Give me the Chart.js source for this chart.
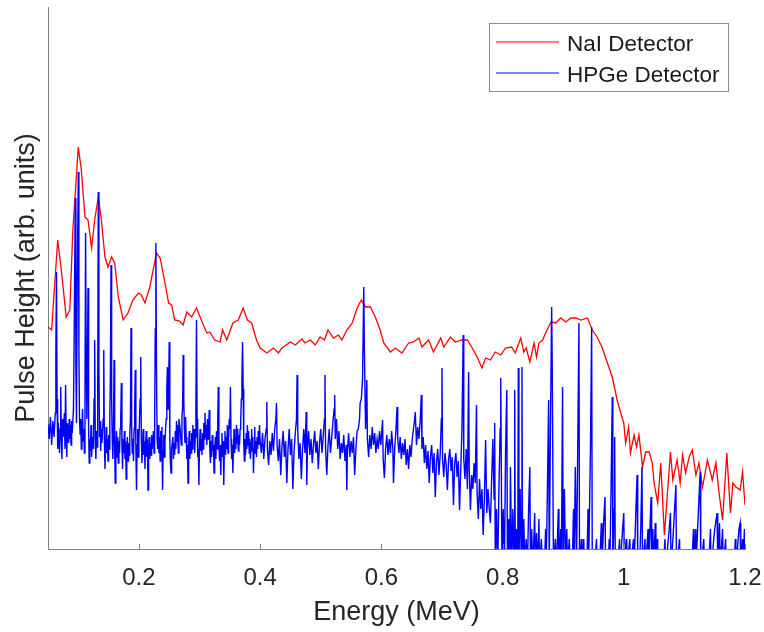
<!DOCTYPE html>
<html>
<head>
<meta charset="utf-8">
<title>Pulse height spectra</title>
<script src="https://cdn.jsdelivr.net/npm/chart.js@4.4.1/dist/chart.umd.min.js"></script>
<style>
  html, body { margin: 0; padding: 0; background: #fff; }
  #spectrumChart { display: block; }
</style>
</head>
<body>
<canvas id="spectrumChart" width="764" height="632"></canvas>
<script>
// ---------- Spectrum data (energy in MeV, height in arb. units) ----------
const energyTicks = [0.2, 0.4, 0.6, 0.8, 1.0, 1.2];

const naiEnergy = [
  0.050, 0.056, 0.066, 0.072, 0.080, 0.086, 0.091, 0.100, 0.105, 0.111,
  0.116, 0.122, 0.127, 0.133, 0.138, 0.144, 0.149, 0.155, 0.160, 0.166,
  0.174, 0.182, 0.190, 0.199, 0.204, 0.210, 0.218, 0.229, 0.235, 0.243,
  0.249, 0.254, 0.259, 0.267, 0.273, 0.279, 0.287, 0.295, 0.303, 0.312,
  0.317, 0.325, 0.334, 0.338, 0.345, 0.355, 0.364, 0.372, 0.379, 0.386,
  0.394, 0.400, 0.411, 0.422, 0.430, 0.436, 0.450, 0.458, 0.469, 0.474,
  0.483, 0.491, 0.499, 0.506, 0.512, 0.521, 0.529, 0.535, 0.543, 0.552,
  0.560, 0.567, 0.574, 0.582, 0.590, 0.598, 0.604, 0.615, 0.623, 0.634,
  0.645, 0.653, 0.662, 0.667, 0.678, 0.686, 0.698, 0.703, 0.714, 0.722,
  0.733, 0.742, 0.750, 0.758, 0.766, 0.772, 0.780, 0.788, 0.797, 0.805,
  0.815, 0.821, 0.830, 0.835, 0.839, 0.845, 0.852, 0.856, 0.860, 0.866,
  0.871, 0.880, 0.888, 0.896, 0.904, 0.913, 0.921, 0.929, 0.940, 0.948,
  0.956, 0.964, 0.973, 0.981, 0.989, 0.995, 1.000, 1.003, 1.008, 1.011,
  1.017, 1.021, 1.025, 1.031, 1.036, 1.042, 1.047, 1.050, 1.056, 1.061,
  1.067, 1.077, 1.081, 1.088, 1.093, 1.097, 1.102, 1.108, 1.113, 1.119,
  1.124, 1.130, 1.138, 1.146, 1.152, 1.157, 1.163, 1.170, 1.176, 1.180,
  1.185, 1.192, 1.196, 1.200
];
const naiHeight = [
  222, 219, 309, 279, 232, 239, 319, 402, 379, 332,
  329, 301, 329, 352, 329, 292, 282, 292, 286, 252,
  229, 236, 249, 256, 254, 246, 262, 296, 291, 266,
  246, 244, 229, 228, 224, 237, 232, 241, 229, 216,
  217, 209, 207, 219, 209, 226, 229, 241, 229, 226,
  209, 201, 196, 201, 196, 201, 207, 204, 210, 206,
  209, 204, 212, 209, 219, 211, 214, 209, 219, 226,
  241, 249, 242, 242, 232, 219, 206, 197, 201, 196,
  206, 207, 211, 202, 209, 197, 211, 202, 212, 207,
  209, 209, 201, 192, 181, 191, 189, 197, 194, 201,
  202, 196, 211, 197, 201, 187, 206, 192, 206, 209,
  216, 227, 226, 231, 227, 231, 231, 229, 231, 219,
  212, 202, 186, 172, 149, 136, 126, 106, 122, 96,
  114, 102, 114, 82, 97, 97, 86, 66, 46, 86,
  14, 97, 69, 89, 66, 94, 76, 92, 99, 74,
  86, 62, 89, 69, 86, 57, 29, 96, 36, 66,
  62, 59, 77, 44
];

const hpgeEnergy = [
  0.050, 0.052, 0.054, 0.056, 0.058, 0.060, 0.062, 0.063, 0.064, 0.065,
  0.066, 0.067, 0.069, 0.070, 0.071, 0.072, 0.073, 0.074, 0.075, 0.077,
  0.078, 0.079, 0.080, 0.081, 0.082, 0.084, 0.085, 0.086, 0.087, 0.088,
  0.089, 0.090, 0.092, 0.093, 0.095, 0.096, 0.097, 0.098, 0.100, 0.101,
  0.102, 0.103, 0.104, 0.105, 0.106, 0.107, 0.108, 0.109, 0.110, 0.111,
  0.112, 0.113, 0.114, 0.115, 0.116, 0.117, 0.118, 0.119, 0.120, 0.121,
  0.122, 0.123, 0.125, 0.126, 0.127, 0.128, 0.129, 0.130, 0.131, 0.132,
  0.133, 0.134, 0.135, 0.136, 0.137, 0.138, 0.139, 0.140, 0.141, 0.142,
  0.143, 0.144, 0.145, 0.146, 0.147, 0.148, 0.149, 0.150, 0.151, 0.152,
  0.153, 0.154, 0.155, 0.156, 0.157, 0.158, 0.159, 0.160, 0.161, 0.162,
  0.163, 0.164, 0.165, 0.166, 0.167, 0.168, 0.169, 0.170, 0.171, 0.172,
  0.173, 0.174, 0.175, 0.176, 0.177, 0.178, 0.179, 0.180, 0.181, 0.182,
  0.183, 0.184, 0.185, 0.186, 0.187, 0.188, 0.189, 0.190, 0.191, 0.192,
  0.193, 0.194, 0.195, 0.196, 0.197, 0.198, 0.199, 0.200, 0.201, 0.202,
  0.203, 0.204, 0.205, 0.206, 0.207, 0.208, 0.209, 0.210, 0.211, 0.212,
  0.213, 0.214, 0.215, 0.216, 0.217, 0.218, 0.219, 0.220, 0.221, 0.222,
  0.224, 0.225, 0.226, 0.227, 0.228, 0.229, 0.230, 0.231, 0.232, 0.233,
  0.234, 0.235, 0.236, 0.237, 0.238, 0.239, 0.240, 0.241, 0.242, 0.243,
  0.244, 0.245, 0.246, 0.247, 0.248, 0.249, 0.250, 0.251, 0.252, 0.253,
  0.254, 0.256, 0.257, 0.258, 0.259, 0.260, 0.261, 0.262, 0.263, 0.264,
  0.265, 0.266, 0.268, 0.270, 0.271, 0.272, 0.273, 0.274, 0.275, 0.276,
  0.277, 0.278, 0.279, 0.280, 0.281, 0.282, 0.283, 0.284, 0.285, 0.286,
  0.287, 0.288, 0.289, 0.290, 0.291, 0.292, 0.293, 0.294, 0.295, 0.296,
  0.297, 0.298, 0.299, 0.300, 0.301, 0.302, 0.303, 0.304, 0.305, 0.306,
  0.307, 0.308, 0.309, 0.310, 0.311, 0.312, 0.313, 0.314, 0.315, 0.316,
  0.317, 0.318, 0.319, 0.320, 0.321, 0.322, 0.323, 0.324, 0.325, 0.326,
  0.327, 0.328, 0.329, 0.330, 0.331, 0.332, 0.333, 0.334, 0.335, 0.336,
  0.337, 0.338, 0.339, 0.340, 0.341, 0.342, 0.343, 0.344, 0.345, 0.346,
  0.347, 0.348, 0.349, 0.350, 0.351, 0.352, 0.353, 0.354, 0.355, 0.356,
  0.357, 0.358, 0.359, 0.360, 0.361, 0.362, 0.363, 0.364, 0.365, 0.366,
  0.367, 0.368, 0.369, 0.370, 0.371, 0.372, 0.373, 0.374, 0.375, 0.376,
  0.377, 0.378, 0.379, 0.380, 0.381, 0.382, 0.383, 0.384, 0.385, 0.386,
  0.387, 0.388, 0.389, 0.390, 0.391, 0.392, 0.393, 0.394, 0.395, 0.396,
  0.397, 0.398, 0.399, 0.400, 0.402, 0.404, 0.406, 0.408, 0.410, 0.411,
  0.412, 0.414, 0.416, 0.418, 0.420, 0.422, 0.424, 0.426, 0.427, 0.428,
  0.430, 0.432, 0.434, 0.436, 0.438, 0.440, 0.442, 0.444, 0.446, 0.448,
  0.450, 0.452, 0.454, 0.456, 0.458, 0.460, 0.461, 0.462, 0.464, 0.466,
  0.468, 0.470, 0.472, 0.474, 0.476, 0.477, 0.478, 0.480, 0.482, 0.484,
  0.486, 0.488, 0.490, 0.492, 0.494, 0.496, 0.498, 0.500, 0.502, 0.504,
  0.506, 0.507, 0.508, 0.510, 0.512, 0.514, 0.516, 0.518, 0.520, 0.522,
  0.523, 0.524, 0.526, 0.528, 0.530, 0.532, 0.534, 0.536, 0.538, 0.540,
  0.542, 0.543, 0.544, 0.546, 0.548, 0.550, 0.552, 0.554, 0.556, 0.558,
  0.560, 0.562, 0.564, 0.565, 0.567, 0.569, 0.571, 0.572, 0.574, 0.576,
  0.577, 0.579, 0.581, 0.583, 0.585, 0.587, 0.589, 0.591, 0.593, 0.595,
  0.597, 0.599, 0.601, 0.602, 0.603, 0.605, 0.607, 0.609, 0.611, 0.613,
  0.615, 0.617, 0.619, 0.620, 0.622, 0.624, 0.626, 0.627, 0.629, 0.631,
  0.633, 0.635, 0.637, 0.639, 0.641, 0.643, 0.645, 0.647, 0.649, 0.651,
  0.653, 0.655, 0.656, 0.658, 0.660, 0.662, 0.664, 0.666, 0.667, 0.669,
  0.671, 0.673, 0.675, 0.677, 0.679, 0.681, 0.683, 0.685, 0.687, 0.689,
  0.691, 0.693, 0.695, 0.697, 0.699, 0.700, 0.701, 0.703, 0.705, 0.707,
  0.709, 0.711, 0.713, 0.715, 0.717, 0.719, 0.721, 0.723, 0.725, 0.727,
  0.729, 0.731, 0.733, 0.735, 0.736, 0.738, 0.740, 0.742, 0.744, 0.745,
  0.747, 0.749, 0.751, 0.753, 0.755, 0.757, 0.758, 0.760, 0.762, 0.764,
  0.766, 0.768, 0.770, 0.772, 0.774, 0.776, 0.778, 0.780, 0.782, 0.784,
  0.786, 0.787, 0.788, 0.790, 0.792, 0.794, 0.796, 0.797, 0.799, 0.801,
  0.803, 0.805, 0.807, 0.808, 0.810, 0.812, 0.813, 0.815, 0.817, 0.819,
  0.820, 0.821, 0.823, 0.825, 0.826, 0.827, 0.829, 0.831, 0.832, 0.833,
  0.835, 0.837, 0.839, 0.841, 0.843, 0.845, 0.846, 0.848, 0.850, 0.853,
  0.854, 0.856, 0.858, 0.860, 0.861, 0.864, 0.866, 0.869, 0.871, 0.872,
  0.874, 0.876, 0.877, 0.879, 0.881, 0.882, 0.884, 0.887, 0.889, 0.892,
  0.893, 0.896, 0.897, 0.899, 0.900, 0.902, 0.904, 0.906, 0.907, 0.910,
  0.912, 0.915, 0.917, 0.918, 0.920, 0.922, 0.924, 0.926, 0.927, 0.930,
  0.931, 0.934, 0.935, 0.939, 0.941, 0.942, 0.945, 0.947, 0.948, 0.952,
  0.955, 0.956, 0.960, 0.963, 0.964, 0.967, 0.969, 0.970, 0.974, 0.976,
  0.977, 0.979, 0.981, 0.982, 0.984, 0.985, 0.986, 0.990, 0.993, 0.994,
  0.998, 1.000, 1.001, 1.004, 1.005, 1.010, 1.011, 1.016, 1.017, 1.020,
  1.022, 1.023, 1.026, 1.028, 1.030, 1.031, 1.035, 1.036, 1.040, 1.041,
  1.045, 1.046, 1.048, 1.049, 1.052, 1.053, 1.055, 1.056, 1.065, 1.068,
  1.069, 1.075, 1.077, 1.078, 1.083, 1.086, 1.087, 1.092, 1.093, 1.112,
  1.115, 1.116, 1.118, 1.119, 1.124, 1.126, 1.127, 1.132, 1.133, 1.140,
  1.143, 1.144, 1.150, 1.154, 1.155, 1.158, 1.159, 1.163, 1.164, 1.168,
  1.169, 1.182, 1.184, 1.185, 1.190, 1.192, 1.193, 1.196, 1.197, 1.199,
  1.200
];
const hpgeHeight = [
  125, 110, 132, 104, 128, 112, 136, 200, 277, 150,
  100, 126, 96, 120, 162, 108, 90, 130, 112, 136,
  100, 164, 118, 92, 126, 106, 130, 110, 124, 104,
  128, 116, 140, 200, 351, 180, 126, 250, 377, 200,
  130, 115, 130, 100, 118, 140, 108, 120, 96, 150,
  316, 200, 130, 180, 261, 120, 86, 110, 98, 124,
  92, 112, 100, 150, 209, 110, 90, 118, 102, 160,
  357, 180, 112, 128, 98, 120, 106, 118, 130, 199,
  110, 80, 104, 122, 96, 110, 88, 114, 100, 130,
  180, 284, 150, 110, 90, 120, 189, 100, 66, 100,
  118, 92, 112, 86, 108, 96, 120, 130, 166, 104,
  80, 110, 96, 118, 90, 108, 70, 98, 112, 88,
  106, 94, 116, 130, 221, 120, 96, 110, 88, 120,
  140, 179, 100, 59, 104, 120, 92, 110, 130, 150,
  192, 110, 86, 102, 120, 94, 108, 80, 104, 118,
  92, 110, 59, 96, 112, 90, 106, 94, 114, 100,
  118, 96, 130, 220, 306, 180, 110, 100, 124, 96,
  112, 88, 118, 100, 122, 59, 98, 114, 92, 108,
  120, 130, 160, 182, 140, 160, 207, 110, 86, 76,
  100, 112, 90, 106, 94, 118, 100, 128, 108, 124,
  96, 130, 120, 104, 134, 140, 194, 150, 120, 106,
  132, 112, 90, 104, 66, 100, 118, 90, 108, 96,
  116, 100, 124, 108, 120, 96, 112, 140, 229, 130,
  92, 100, 64, 104, 120, 98, 110, 94, 116, 100,
  126, 110, 136, 112, 124, 104, 130, 110, 120, 139,
  100, 86, 108, 92, 114, 98, 104, 76, 100, 112,
  90, 118, 100, 126, 162, 110, 88, 104, 74, 100,
  116, 92, 108, 64, 100, 118, 94, 112, 100, 124,
  96, 110, 130, 120, 162, 110, 90, 104, 76, 100,
  120, 96, 112, 100, 124, 106, 120, 98, 114, 104,
  120, 130, 150, 170, 207, 160, 104, 88, 110, 94,
  116, 100, 124, 104, 118, 96, 110, 90, 106, 120,
  98, 112, 76, 100, 122, 96, 108, 92, 112, 100,
  118, 104, 124, 108, 96, 116, 90, 110, 120, 147,
  100, 84, 108, 94, 116, 98, 120, 130, 146, 104,
  88, 110, 74, 102, 118, 92, 108, 66, 100, 120,
  94, 110, 60, 98, 116, 130, 174, 120, 90, 106,
  70, 100, 120, 96, 137, 64, 100, 118, 94, 110,
  86, 104, 118, 96, 108, 80, 106, 120, 96, 112,
  130, 174, 100, 74, 104, 120, 96, 110, 126, 140,
  154, 110, 130, 100, 118, 90, 106, 96, 114, 88,
  104, 59, 98, 116, 92, 108, 96, 112, 74, 100,
  118, 120, 130, 146, 150, 170, 262, 200, 120, 169,
  110, 92, 114, 100, 122, 104, 116, 96, 110, 100,
  118, 104, 120, 129, 90, 71, 100, 114, 94, 110,
  96, 118, 100, 66, 100, 118, 142, 110, 96, 112,
  90, 106, 94, 110, 84, 100, 80, 104, 92, 110,
  120, 130, 137, 104, 122, 110, 128, 154, 100, 112,
  86, 104, 80, 98, 66, 92, 104, 76, 96, 52,
  88, 100, 74, 94, 130, 181, 90, 72, 96, 84,
  59, 90, 100, 78, 92, 44, 86, 96, 72, 88,
  39, 80, 120, 214, 90, 70, 100, 60, 177, 80,
  39, 74, 60, 86, 66, 144, 56, 30, 70, 40,
  60, 14, 50, 109, 36, 60, 40, 26, 70, 110,
  50, 126, -20, 40, -20, 60, 120, 171, -20, 40,
  -20, 100, 159, -20, 30, -20, 82, -20, 40, -20,
  159, -20, 20, -20, 181, -20, 60, -20, 182, -20,
  30, -20, 10, -20, 40, 82, -20, 20, -20, 36,
  -20, 16, -20, 30, -20, 10, -20, -20, 20, -20,
  60, 149, -20, 120, 242, 180, -20, 10, -20, 40,
  -20, 20, -20, 162, -20, 60, -20, 20, -20, 10,
  -20, -20, 40, -20, 82, -20, 100, 226, -20, 10,
  -20, 10, -20, -20, 40, -20, 100, 222, -20, -20,
  10, -20, -20, 26, -20, 30, 52, -20, -20, 10,
  -20, 60, 152, -20, 40, 112, -20, -20, 10, -20,
  20, 36, -20, 10, -20, 10, -20, 10, -20, 40,
  74, -20, -20, 20, 82, -20, 10, -20, 20, -20,
  52, -20, 20, -20, 26, -20, 10, -20, -20, 10,
  -20, 20, 36, -20, 30, 64, -20, 10, -20, -20,
  20, -20, 20, -20, 50, 77, -20, 10, -20, -20,
  20, -20, 20, 36, -20, 26, -20, 20, -20, 10,
  -20, -20, 10, -20, 20, 26, -20, 10, -20, 20,
  -20
];

// ---------- Styling ----------
const FONT_FAMILY = "'Liberation Sans', Arial, Helvetica, sans-serif";
const TEXT_COLOR = "#262626";
const AXIS_COLOR = "#808080";

Chart.defaults.font.family = FONT_FAMILY;
Chart.defaults.color = TEXT_COLOR;

function toPoints(xs, ys) {
  return xs.map((x, i) => ({ x: x, y: ys[i] }));
}

// ---------- Plugins ----------
// inward tick marks on the energy axis
const innerTicks = {
  id: "innerTicks",
  afterDraw(chart) {
    const { ctx, chartArea, scales } = chart;
    ctx.save();
    ctx.strokeStyle = AXIS_COLOR;
    ctx.lineWidth = 1;
    scales.x.ticks.forEach(t => {
      const px = Math.round(scales.x.getPixelForValue(t.value)) + 0.5;
      ctx.beginPath();
      ctx.moveTo(px, chartArea.bottom);
      ctx.lineTo(px, chartArea.bottom - 5);
      ctx.stroke();
    });
    ctx.restore();
  }
};

// boxed legend in the upper right corner
const boxLegend = {
  id: "boxLegend",
  afterDraw(chart) {
    const { ctx, chartArea } = chart;
    const x0 = chartArea.right - 256;
    const y0 = chartArea.top + 16;
    const w = 239, h = 68;
    ctx.save();
    ctx.fillStyle = "#ffffff";
    ctx.fillRect(x0, y0, w, h);
    ctx.strokeStyle = "#8c8c8c";
    ctx.lineWidth = 1;
    ctx.strokeRect(Math.round(x0) + 0.5, Math.round(y0) + 0.5, w, h);

    ctx.font = "22.5px " + FONT_FAMILY;
    ctx.textBaseline = "alphabetic";
    chart.data.datasets.forEach((ds, i) => {
      const ly = y0 + 19 + i * 31;
      ctx.strokeStyle = ds.borderColor;
      ctx.lineWidth = 1;
      ctx.beginPath();
      ctx.moveTo(x0 + 7, ly);
      ctx.lineTo(x0 + 70, ly);
      ctx.stroke();
      ctx.fillStyle = "#1a1a1a";
      ctx.fillText(ds.label, x0 + 78, ly + 9);
    });
    ctx.restore();
  }
};

// ---------- Chart ----------
function renderSpectrumChart() {
  const ctx = document.getElementById("spectrumChart").getContext("2d");

  new Chart(ctx, {
    type: "line",
    data: {
      datasets: [
        {
          label: "NaI Detector",
          data: toPoints(naiEnergy, naiHeight),
          borderColor: "#ff0000",
          borderWidth: 1.3,
          pointRadius: 0,
          tension: 0,
          order: 1
        },
        {
          label: "HPGe Detector",
          data: toPoints(hpgeEnergy, hpgeHeight),
          borderColor: "#0000ff",
          borderWidth: 1.4,
          pointRadius: 0,
          tension: 0,
          order: 0
        }
      ]
    },
    options: {
      responsive: false,
      animation: false,
      layout: { padding: { left: 8, right: 19, top: 7, bottom: 0 } },
      plugins: {
        legend: { display: false },
        tooltip: { enabled: false }
      },
      scales: {
        x: {
          type: "linear",
          min: 0.05,
          max: 1.2,
          afterBuildTicks: axis => {
            axis.ticks = energyTicks.map(v => ({ value: v }));
          },
          afterFit: scale => {
            // keep the last label from pulling the plot edge inwards
            scale.height = 83;
            scale.paddingLeft = 0;
            scale.paddingRight = 0;
          },
          grid: { display: false, drawTicks: false },
          border: { display: true, color: AXIS_COLOR, width: 1 },
          ticks: {
            padding: 15,
            maxRotation: 0,
            font: { size: 24 },
            color: TEXT_COLOR,
            callback: v => String(+Number(v).toFixed(1))
          },
          title: {
            display: true,
            text: "Energy (MeV)",
            font: { size: 27 },
            color: TEXT_COLOR,
            padding: { top: 0, bottom: 3 }
          }
        },
        y: {
          min: 0,
          max: 542,
          afterFit: scale => {
            scale.width = 40;
            scale.paddingTop = 0;
            scale.paddingBottom = 0;
          },
          grid: { display: false, drawTicks: false },
          border: { display: true, color: AXIS_COLOR, width: 1 },
          ticks: { display: false },
          title: {
            display: true,
            text: "Pulse Height (arb. units)",
            font: { size: 27 },
            color: TEXT_COLOR,
            padding: { top: 2, bottom: 0 }
          }
        }
      }
    },
    plugins: [innerTicks, boxLegend]
  });
}

document.addEventListener("DOMContentLoaded", () => {
  renderSpectrumChart();
});
</script>
</body>
</html>
